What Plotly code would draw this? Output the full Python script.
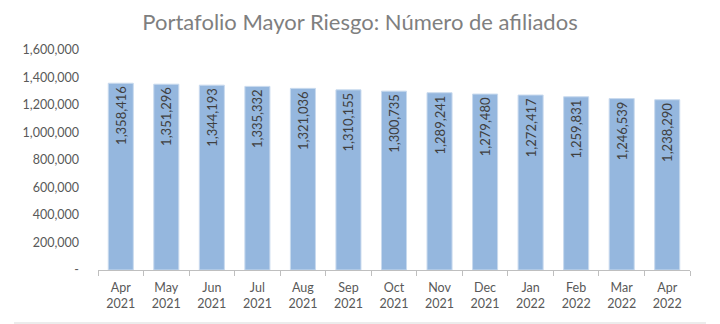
import plotly.graph_objects as go

months = ["Apr<br>2021", "May<br>2021", "Jun<br>2021", "Jul<br>2021", "Aug<br>2021", "Sep<br>2021",
          "Oct<br>2021", "Nov<br>2021", "Dec<br>2021", "Jan<br>2022", "Feb<br>2022", "Mar<br>2022", "Apr<br>2022"]
afiliados = [1358416, 1351296, 1344193, 1335332, 1321036, 1310155, 1300735,
             1289241, 1279480, 1272417, 1259831, 1246539, 1238290]
ytick_vals = [0, 200000, 400000, 600000, 800000, 1000000, 1200000, 1400000, 1600000]
ytick_text = ["-", "200,000", "400,000", "600,000", "800,000", "1,000,000", "1,200,000", "1,400,000", "1,600,000"]

W, H = 720, 324
ml, mr, mt, mb = 98, 30, 50, 54

fig = go.Figure(go.Bar(
    x=months, y=afiliados,
    marker=dict(color="#95b7de", line=dict(color="#c9daee", width=1)),
    text=[f"{v:,}" for v in afiliados],
    textposition="inside", insidetextanchor="end", textangle=-90,
    textfont=dict(family="Lato, Open Sans, sans-serif", size=13, color="#404040"),
    cliponaxis=False,
))

fig.update_layout(
    width=W, height=H,
    margin=dict(l=ml, r=mr, t=mt, b=mb),
    paper_bgcolor="white", plot_bgcolor="white",
    bargap=0.45,
    showlegend=False,
    font=dict(family="Lato, Open Sans, sans-serif", size=12, color="#595959"),
    title=dict(text="Portafolio Mayor Riesgo: Número de afiliados",
               x=0.5, xanchor="center", y=0.93, yanchor="middle",
               font=dict(family="Lato, Open Sans, sans-serif", size=22, color="#7f7f7f")),
    xaxis=dict(showline=True, linecolor="#bfbfbf", linewidth=1,
               ticks="outside", ticklen=5, tickcolor="#bfbfbf", tickson="boundaries",
               ticklabelstandoff=6,
               tickfont=dict(size=12.5, color="#595959"), showgrid=False),
    yaxis=dict(range=[0, 1600000], tickvals=ytick_vals, ticktext=ytick_text,
               showgrid=False, showline=False, zeroline=False,
               ticks="", ticklabelstandoff=18,
               tickfont=dict(size=12.5, color="#595959")),
)

# bottom border line of the chart frame
pw = W - ml - mr
ph = H - mt - mb
x0 = (14 - ml) / pw
x1 = (706 - ml) / pw
yb = -(323 - (H - mb)) / ph
fig.add_shape(type="line", xref="paper", yref="paper", x0=x0, x1=x1, y0=yb, y1=yb,
              line=dict(color="#d9d9d9", width=1))

fig.write_html("out.html")
